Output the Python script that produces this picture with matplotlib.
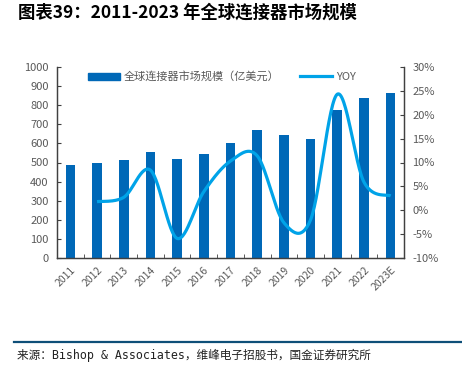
import matplotlib
matplotlib.use("Agg")
import matplotlib.pyplot as plt
import numpy as np
from matplotlib.lines import Line2D
from matplotlib.patches import Patch

plt.rcParams['font.family'] = ['Noto Sans CJK SC', 'DejaVu Sans']

# data
years = ['2011', '2012', '2013', '2014', '2015', '2016', '2017',
         '2018', '2019', '2020', '2021', '2022', '2023E']
market = [487, 500, 512, 556, 519, 545, 600, 668, 642, 625, 775, 838, 864]
yoy = [None, 1.8, 2.7, 8.4, -5.9, 3.9, 10.3, 11.4, -2.6, -2.0, 24.3, 5.9, 3.0]

bar_color = '#0068B7'
line_color = '#00A3E8'
grey = '#595959'


def smooth(xs, ys, n=30):
    # excel style smoothed line: bezier segments with catmull-rom handles
    xs = np.asarray(xs, float)
    ys = np.asarray(ys, float)
    px, py = [], []
    m = len(xs)
    for i in range(m - 1):
        i0 = max(i - 1, 0)
        i3 = min(i + 2, m - 1)
        c1x = xs[i] + (xs[i + 1] - xs[i0]) / 6
        c1y = ys[i] + (ys[i + 1] - ys[i0]) / 6
        c2x = xs[i + 1] - (xs[i3] - xs[i]) / 6
        c2y = ys[i + 1] - (ys[i3] - ys[i]) / 6
        t = np.linspace(0, 1, n)
        a = (1 - t) ** 3
        b = 3 * (1 - t) ** 2 * t
        c = 3 * (1 - t) * t ** 2
        d = t ** 3
        px.extend(a * xs[i] + b * c1x + c * c2x + d * xs[i + 1])
        py.extend(a * ys[i] + b * c1y + c * c2y + d * ys[i + 1])
    return px, py


fig = plt.figure(figsize=(4.62, 3.72), dpi=100)
ax = fig.add_axes([57 / 462, 1 - 258 / 372, 347 / 462, 191 / 372])
ax2 = ax.twinx()

x = np.arange(len(years))
ax.bar(x, market, width=0.36, color=bar_color, zorder=2)
ax.set_xlim(-0.5, len(years) - 0.5)
ax.set_ylim(0, 1000)
ax.set_yticks(range(0, 1001, 100))
ax.set_xticks(x)
ax.set_xticklabels(years, rotation=45, ha='right', va='top',
                   rotation_mode='anchor', fontsize=7.5, color=grey)
ax.set_xticks(np.arange(-0.5, len(years), 1), minor=True)
ax.tick_params(axis='x', which='major', length=0, pad=5)
ax.tick_params(axis='x', which='minor', direction='in', length=3, color='#404040')
ax.tick_params(axis='y', direction='in', length=3, labelsize=8,
               labelcolor=grey, color='#404040', pad=6)

xv = [i for i, v in enumerate(yoy) if v is not None]
yv = [v for v in yoy if v is not None]
sx, sy = smooth(xv, yv)
ax2.plot(sx, sy, color=line_color, lw=2.3, solid_capstyle='butt', zorder=3)
ax2.set_ylim(-10, 30)
ax2.set_yticks(range(-10, 31, 5))
ax2.set_yticklabels([f'{v}%' for v in range(-10, 31, 5)])
ax2.tick_params(axis='y', direction='in', length=3, labelsize=8,
                labelcolor=grey, color='#404040', pad=6)

for a in (ax, ax2):
    a.spines['top'].set_visible(False)
    for s in ('left', 'right', 'bottom'):
        a.spines[s].set_color('#404040')
        a.spines[s].set_linewidth(0.9)

handles = [Patch(color=bar_color), Line2D([0], [0], color=line_color, lw=2.3)]
ax.legend(handles, ['全球连接器市场规模（亿美元）', 'YOY'], loc='upper left',
          bbox_to_anchor=(0.06, 1.03), ncol=2, frameon=False, fontsize=8,
          labelcolor=grey, handlelength=2.9, handleheight=0.6,
          handletextpad=0.3, columnspacing=1.9)

fig.text(0.04, 0.965, '图表39：2011-2023 年全球连接器市场规模', fontsize=12.5,
         fontweight='bold', style='italic', va='center', color='black')

fig.add_artist(Line2D([14 / 462, 1], [1 - 342 / 372] * 2, color='#0E4F78', lw=1.6))
fig.text(17 / 462, 1 - 355 / 372, '来源：Bishop & Associates，维峰电子招股书，国金证券研究所',
         fontsize=8.4, va='center', color='#222222',
         family=['DejaVu Sans Mono', 'Noto Sans CJK SC'])

fig.savefig('out.png', dpi=100)
